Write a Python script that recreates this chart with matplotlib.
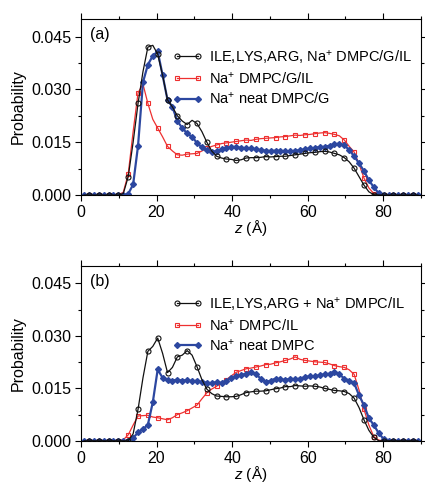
import numpy as np
import matplotlib
matplotlib.use("Agg")
import matplotlib.pyplot as plt
from matplotlib.ticker import MultipleLocator, FormatStrFormatter

plt.rcParams['font.family'] = ['Liberation Sans', 'DejaVu Sans']
plt.rcParams['mathtext.fontset'] = 'custom'
plt.rcParams['mathtext.rm'] = 'Liberation Sans'
plt.rcParams['mathtext.it'] = 'Liberation Sans:italic'

# z grid (Angstrom)
z = np.round(0.8 + 1.3 * np.arange(69), 2)

# ---- panel (a) ----
a_black = [0, 0, 0, 0, 0, 0, 0, 0, 0.0004, 0.0052, 0.015, 0.026, 0.035, 0.042, 0.0425,
           0.040, 0.034, 0.027, 0.025, 0.0225, 0.021, 0.020, 0.0212, 0.0203, 0.018, 0.015,
           0.0125, 0.011, 0.0105, 0.0102, 0.0101, 0.0098, 0.0100, 0.0105, 0.0106, 0.0106,
           0.0107, 0.0109, 0.0108, 0.0109, 0.0110, 0.0110, 0.0112, 0.0114, 0.0116, 0.0118,
           0.0120, 0.0121, 0.0123, 0.0124, 0.0122, 0.0118, 0.0114, 0.0106, 0.0094, 0.0076,
           0.0052, 0.0028, 0.0009, 0.0001, 0, 0, 0, 0, 0, 0, 0, 0, 0]
a_red = [0, 0, 0, 0, 0, 0, 0, 0, 0.0008, 0.006, 0.018, 0.029, 0.0315, 0.026, 0.0215,
         0.019, 0.0165, 0.0138, 0.0125, 0.0114, 0.0113, 0.0116, 0.0117, 0.0118, 0.0125,
         0.0132, 0.0138, 0.0142, 0.0146, 0.0148, 0.015, 0.0152, 0.0154, 0.0156, 0.0155,
         0.0158, 0.016, 0.0161, 0.0162, 0.0163, 0.0165, 0.0166, 0.0168, 0.017, 0.0169,
         0.0171, 0.0172, 0.0174, 0.0176, 0.0177, 0.0175, 0.0172, 0.0168, 0.0156, 0.0138,
         0.0122, 0.0088, 0.0048, 0.002, 0.0004, 0, 0, 0, 0, 0, 0, 0, 0, 0]
a_blue = [0, 0, 0, 0, 0, 0, 0, 0, 0, 0.0003, 0.003, 0.014, 0.032, 0.037, 0.0395,
          0.0408, 0.034, 0.027, 0.025, 0.021, 0.019, 0.0175, 0.0165, 0.0148, 0.0135,
          0.0127, 0.0122, 0.0125, 0.013, 0.0134, 0.0137, 0.0136, 0.0134, 0.0133, 0.0132,
          0.013, 0.0127, 0.0126, 0.0125, 0.0126, 0.0125, 0.0125, 0.0124, 0.0126, 0.0127,
          0.013, 0.0132, 0.0134, 0.0136, 0.0137, 0.014, 0.0144, 0.0146, 0.0141, 0.0128,
          0.011, 0.009, 0.0068, 0.0042, 0.0022, 0.0005, 0, 0, 0, 0, 0, 0, 0, 0]

# ---- panel (b) ----
b_black = [0, 0, 0, 0, 0, 0, 0, 0, 0, 0, 0.002, 0.009, 0.018, 0.0256, 0.027, 0.0294,
           0.025, 0.0195, 0.021, 0.024, 0.0245, 0.0258, 0.0245, 0.0212, 0.0175, 0.0148,
           0.0135, 0.0128, 0.0127, 0.0126, 0.0126, 0.0127, 0.0132, 0.0138, 0.014, 0.0142,
           0.0142, 0.0143, 0.0146, 0.0149, 0.0151, 0.0155, 0.0155, 0.0158, 0.0157, 0.0156,
           0.0157, 0.0156, 0.0154, 0.015, 0.0147, 0.0144, 0.0143, 0.0141, 0.0135, 0.0122,
           0.0095, 0.006, 0.003, 0.001, 0, 0, 0, 0, 0, 0, 0, 0, 0]
b_red = [0, 0, 0, 0, 0, 0, 0, 0, 0.0003, 0.0017, 0.0045, 0.0071, 0.0072, 0.0073, 0.0068,
         0.0066, 0.0063, 0.006, 0.0066, 0.0075, 0.008, 0.0086, 0.0094, 0.0102, 0.012,
         0.0137, 0.0148, 0.0156, 0.0166, 0.0175, 0.0186, 0.0196, 0.0201, 0.0206, 0.0208,
         0.0211, 0.0214, 0.0218, 0.0219, 0.0223, 0.0226, 0.023, 0.0234, 0.024, 0.0233,
         0.023, 0.0228, 0.0226, 0.0225, 0.0224, 0.022, 0.0215, 0.0212, 0.021, 0.0203,
         0.019, 0.0145, 0.009, 0.0045, 0.0012, 0.0002, 0, 0, 0, 0, 0, 0, 0, 0]
b_blue = [0, 0, 0, 0, 0, 0, 0, 0, 0, 0, 0.0008, 0.0024, 0.0033, 0.0046, 0.011, 0.0204,
          0.018, 0.0175, 0.0172, 0.0175, 0.0172, 0.0174, 0.017, 0.0172, 0.0168, 0.0166,
          0.0165, 0.0168, 0.0165, 0.0172, 0.018, 0.0186, 0.0188, 0.0192, 0.0198, 0.019,
          0.0178, 0.0168, 0.0172, 0.0178, 0.0176, 0.0174, 0.0178, 0.0176, 0.0178, 0.0182,
          0.0185, 0.0184, 0.0188, 0.019, 0.0192, 0.0198, 0.019, 0.0178, 0.0172, 0.0165,
          0.013, 0.0102, 0.0065, 0.0045, 0.0022, 0.0005, 0, 0, 0, 0, 0, 0, 0]

labels_a = ["ILE,LYS,ARG, Na$^{+}$ DMPC/G/IL", "Na$^{+}$ DMPC/G/IL", "Na$^{+}$ neat DMPC/G"]
labels_b = ["ILE,LYS,ARG + Na$^{+}$ DMPC/IL", "Na$^{+}$ DMPC/IL", "Na$^{+}$ neat DMPC"]
panel_tags = ["(a)", "(b)"]

x_ticks = [0, 20, 40, 60, 80]
y_ticks = [0.000, 0.015, 0.030, 0.045]

BLACK = '#111111'
RED = '#ee3030'
BLUE = '#2c47a0'

fig = plt.figure(figsize=(4.25, 4.86), dpi=100)
ax_a = fig.add_axes([0.1906, 0.5988, 0.8, 0.3623])
ax_b = fig.add_axes([0.1906, 0.0930, 0.8, 0.3597])

def draw(ax, black, red, blue, labels, tag):
    ax.plot(z, black, color=BLACK, lw=0.9, marker='o', ms=3.6, mfc='none', mew=0.8,
            markevery=(1, 2), label=labels[0], zorder=3)
    ax.plot(z, red, color=RED, lw=0.9, marker='s', ms=3.4, mfc='none', mew=0.8,
            markevery=(1, 2), label=labels[1], zorder=2)
    ax.plot(z, blue, color=BLUE, lw=1.6, marker='D', ms=3.0, mfc=BLUE, mec=BLUE,
            label=labels[2], zorder=2.5)
    ax.set_xlim(0, 90)
    ax.set_ylim(0, 0.05)
    ax.set_xticks(x_ticks)
    ax.set_yticks(y_ticks)
    ax.xaxis.set_minor_locator(MultipleLocator(10))
    ax.yaxis.set_minor_locator(MultipleLocator(0.0075))
    ax.yaxis.set_major_formatter(FormatStrFormatter('%.3f'))
    ax.tick_params(which='both', direction='out', top=True, right=True, labelsize=11.5)
    ax.tick_params(which='major', length=4, width=0.8, pad=3)
    ax.tick_params(which='minor', length=2.5, width=0.8)
    for s in ax.spines.values():
        s.set_linewidth(0.8)
    ax.set_ylabel('Probability', fontsize=11.5, labelpad=4)
    ax.set_xlabel('$z$ (Å)', fontsize=11, labelpad=-1)
    ax.text(0.025, 0.955, tag, transform=ax.transAxes, fontsize=11.5, va='top', ha='left')
    ax.legend(loc='upper left', bbox_to_anchor=(0.27, 0.835), frameon=False,
              numpoints=2, handlelength=2.0, handletextpad=0.5, labelspacing=0.3,
              fontsize=10.5, borderaxespad=0, borderpad=0)

draw(ax_a, a_black, a_red, a_blue, labels_a, panel_tags[0])
draw(ax_b, b_black, b_red, b_blue, labels_b, panel_tags[1])

fig.savefig('out.png', dpi=100)
